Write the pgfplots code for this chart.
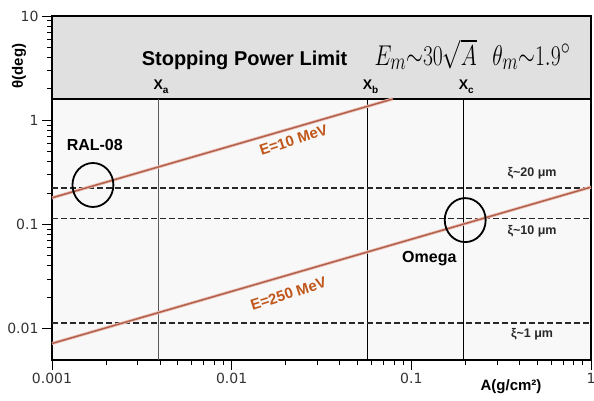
\documentclass[border=0pt]{standalone}
\usepackage{graphicx}
\usepackage{pgfplots}
\pgfplotsset{compat=1.18}
\usepackage{fontspec}
\setmainfont{Liberation Sans}
\newfontfamily\dejavu{DejaVu Sans}
\definecolor{bandgray}{RGB}{224,224,224}
\definecolor{plotbg}{RGB}{248,248,248}
\definecolor{eline}{RGB}{178,96,76}
\definecolor{ehalo}{RGB}{236,196,186}
\definecolor{elabel}{RGB}{192,86,26}
\definecolor{tickgray}{RGB}{51,51,51}
\definecolor{dashgray}{RGB}{40,40,40}
\newcommand{\Xlab}[1]{X\rlap{\raisebox{-4pt}{\fontsize{10}{12}\selectfont #1}}}

\begin{document}
\begin{tikzpicture}
\begin{axis}[
  xmode=log, ymode=log,
  width=539pt, height=344pt, scale only axis,
  xmin=0.001, xmax=1, ymin=0.005, ymax=10,
  xtick={0.001,0.01,0.1,1}, xticklabels={0.001,0.01,0.1,1},
  ytick={0.01,0.1,1,10}, yticklabels={0.01,0.1,1,10},
  tick label style={font=\dejavu\fontsize{14}{16}\selectfont, text=tickgray},
  tick align=outside, tick pos=left,
  major tick length=10pt, minor tick length=5pt,
  tick style={black, line width=0.8pt},
  axis line style={black, line width=1.2pt},
  axis background/.style={fill=plotbg},
]
\coordinate (O) at (rel axis cs:0,0);

% title band (theta above the stopping power limit)
\addplot[fill=bandgray, draw=black, line width=1.2pt]
  coordinates {(0.001,1.6) (1,1.6) (1,10) (0.001,10)} -- cycle;

% Xa, Xb, Xc
\addplot[black!65, line width=0.7pt] coordinates {(0.0039,0.005) (0.0039,1.6)};
\addplot[black, line width=0.9pt] coordinates {(0.057,0.005) (0.057,1.6)};
\addplot[black, line width=0.9pt] coordinates {(0.195,0.005) (0.195,1.6)};

% xi levels
\addplot[dashgray, line width=1.8pt, dash pattern=on 6pt off 3pt]
  coordinates {(0.001,0.225) (1,0.225)};
\addplot[dashgray, line width=1.8pt, dash pattern=on 6pt off 3pt]
  coordinates {(0.001,0.114) (1,0.114)};
\addplot[dashgray, line width=1.8pt, dash pattern=on 6pt off 3pt]
  coordinates {(0.001,0.0114) (1,0.0114)};

% E = 10 MeV
\addplot[ehalo, line width=3.2pt] coordinates {(0.001,0.18) (0.079,1.6)};
\addplot[eline, line width=1.5pt] coordinates {(0.001,0.18) (0.079,1.6)};
% E = 250 MeV
\addplot[ehalo, line width=3.2pt] coordinates {(0.001,0.0072) (1,0.228)};
\addplot[eline, line width=1.5pt] coordinates {(0.001,0.0072) (1,0.228)};

% RAL-08 and Omega rings
\addplot[only marks, mark=o, mark size=22pt,
         mark options={black, line width=1.8pt, xscale=0.93}]
  coordinates {(0.00169,0.239) (0.1995,0.110)};

\node[anchor=base, font=\bfseries\fontsize{20}{22}\selectfont]
  at (axis cs:0.0118,3.36) {Stopping Power Limit};
\node[anchor=base west, inner sep=0pt]
  at (axis cs:0.0623,3.36) {\scalebox{0.87}[1.15]{\fontsize{24.88}{26}\selectfont$E_m{\sim}30\sqrt{A}$}};
\node[anchor=base west, inner sep=0pt]
  at (axis cs:0.282,3.36) {\scalebox{0.87}[1.15]{\fontsize{24.88}{26}\selectfont$\theta_m{\sim}1.9^\circ$}};

\node[anchor=base, inner sep=0pt, font=\bfseries\fontsize{14}{16}\selectfont]
  at (axis cs:0.0039,1.98) {\Xlab{a}};
\node[anchor=base, inner sep=0pt, font=\bfseries\fontsize{14}{16}\selectfont]
  at (axis cs:0.057,1.98) {\Xlab{b}};
\node[anchor=base, inner sep=0pt, font=\bfseries\fontsize{14}{16}\selectfont]
  at (axis cs:0.195,1.98) {\Xlab{c}};

\node[font=\bfseries\fontsize{16}{18}\selectfont] at (axis cs:0.00173,0.576) {RAL-08};
\node[font=\bfseries\fontsize{16}{18}\selectfont] at (axis cs:0.126,0.0468) {Omega};

\node[font=\bfseries\fontsize{12.5}{14}\selectfont, text=dashgray]
  at (axis cs:0.47,0.311) {ξ\textasciitilde 20 μm};
\node[font=\bfseries\fontsize{12.5}{14}\selectfont, text=dashgray]
  at (axis cs:0.47,0.0867) {ξ\textasciitilde 10 μm};
\node[font=\bfseries\fontsize{12.5}{14}\selectfont, text=dashgray]
  at (axis cs:0.47,0.00877) {ξ\textasciitilde 1 μm};

\node[rotate=18, text=elabel, font=\bfseries\fontsize{15}{17}\selectfont]
  at (axis cs:0.0221,0.644) {E=10 MeV};
\node[rotate=18, text=elabel, font=\bfseries\fontsize{15}{17}\selectfont]
  at (axis cs:0.0207,0.0216) {E=250 MeV};

\end{axis}
\node[rotate=90, font=\bfseries\fontsize{15}{17}\selectfont]
  at ([shift={(-33pt,294pt)}]O) {θ(deg)};
\node[font=\bfseries\fontsize{15}{17}\selectfont]
  at ([shift={(459pt,-27pt)}]O) {A(g/cm²)};
\pgfresetboundingbox
\path[use as bounding box] (O) ++(-52pt,-41pt) rectangle ++(594pt,401pt);
\end{tikzpicture}
\end{document}
